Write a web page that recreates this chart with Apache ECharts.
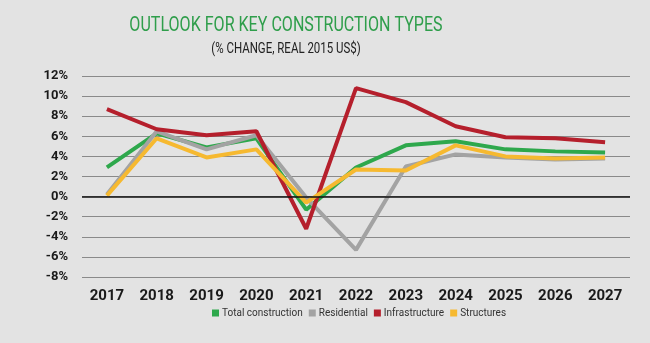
<!DOCTYPE html>
<html><head><meta charset="utf-8">
<script src="https://cdn.jsdelivr.net/npm/echarts@6/dist/echarts.min.js"></script>
<style>html,body{margin:0;padding:0;background:#e3e3e3}#c{width:650px;height:343px}</style>
</head><body><div id="c"></div>
<script>
const years = ['2017','2018','2019','2020','2021','2022','2023','2024','2025','2026','2027'];
const totalConstruction = [2.9, 6.3, 4.9, 5.8, -1.3, 2.9, 5.1, 5.5, 4.7, 4.5, 4.4];
const residential = [0.2, 6.5, 4.7, 6.1, -0.1, -5.3, 3.0, 4.2, 3.9, 3.7, 3.8];
const infrastructure = [8.7, 6.7, 6.1, 6.5, -3.2, 10.8, 9.4, 7.0, 5.9, 5.8, 5.4];
const structures = [0.1, 5.8, 3.9, 4.7, -0.6, 2.7, 2.6, 5.1, 4.0, 3.8, 3.9];
const seriesNames = ['Total construction','Residential','Infrastructure','Structures'];
const colors = ['#2ea84c','#a3a3a3','#b51f2c','#f6b930'];
const values = [totalConstruction, residential, infrastructure, structures];

const chart = echarts.init(document.getElementById('c'));
chart.setOption({
  backgroundColor: '#e3e3e3',
  animation: false,
  graphic: [
    {type: 'text', x: 286, y: 26, scaleX: 0.765, scaleY: 1,
     style: {text: 'OUTLOOK FOR KEY CONSTRUCTION TYPES', align: 'center', verticalAlign: 'middle',
       font: 'normal 21px Roboto, sans-serif', fill: '#2f9e4b'}},
    {type: 'text', x: 286, y: 49, scaleX: 0.82, scaleY: 1,
     style: {text: '(% CHANGE, REAL 2015 US$)', align: 'center', verticalAlign: 'middle',
       font: 'normal 14px Roboto, sans-serif', fill: '#222'}}
  ],
  legend: {
    data: seriesNames, bottom: 20, left: 207, icon: 'rect', itemWidth: 7, itemHeight: 7, itemGap: 6,
    textStyle: {fontFamily: 'Roboto, sans-serif', fontSize: 10, color: '#333', padding: [0,0,0,-2]}
  },
  grid: {left: 82, right: 20, top: 76, bottom: 66},
  xAxis: {
    type: 'category', data: years, boundaryGap: true,
    axisLine: {show: false}, axisTick: {show: false},
    axisLabel: {fontFamily: 'Roboto, sans-serif', fontWeight: 'bold', fontSize: 15, color: '#1a1a1a', margin: 12}
  },
  yAxis: {
    type: 'value', min: -8, max: 12, interval: 2,
    axisLine: {show: false}, axisTick: {show: false},
    axisLabel: {formatter: '{value}%', fontFamily: 'Roboto, sans-serif', fontWeight: 'bold', fontSize: 13, color: '#1a1a1a', margin: 14},
    splitLine: {lineStyle: {color: '#8a8a8a', width: 1}}
  },
  series: values.map((v, i) => ({
    name: seriesNames[i], type: 'line', data: v, symbol: 'none',
    lineStyle: {color: colors[i], width: 4}, itemStyle: {color: colors[i]},
    markLine: i === 0 ? {silent: true, symbol: 'none', label: {show: false},
      lineStyle: {color: '#111', width: 1.5, type: 'solid'}, data: [{yAxis: 0}]} : undefined
  }))
});
</script></body></html>
